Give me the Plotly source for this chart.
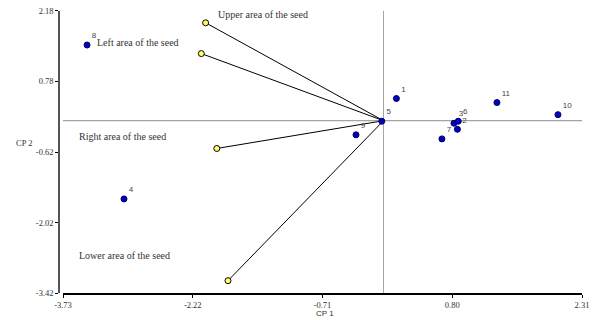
import plotly.graph_objects as go

# Observations (scores)
obs_labels = ["1", "2", "3", "4", "5", "6", "7", "8", "9", "10", "11"]
obs_x = [0.15, 0.86, 0.82, -3.02, -0.02, 0.87, 0.68, -3.45, -0.32, 2.03, 1.32]
obs_y = [0.44, -0.17, -0.05, -1.55, -0.01, -0.01, -0.36, 1.50, -0.28, 0.12, 0.36]

# Variables (loadings)
var_names = ["Upper area of the seed", "Left area of the seed",
             "Right area of the seed", "Lower area of the seed"]
var_x = [-2.07, -2.12, -1.94, -1.81]
var_y = [1.94, 1.33, -0.55, -3.17]

x_ticks = [-3.73, -2.22, -0.71, 0.80, 2.31]
y_ticks = [-3.42, -2.02, -0.62, 0.78, 2.18]
x_range = [-3.73, 2.31]
y_range = [-3.42, 2.18]

W, H = 594, 320
SERIF = "Liberation Serif, Times New Roman, serif"
SANS = "Liberation Sans, Arial, sans-serif"


def px(v):
    return v / W


def py(v):
    return 1 - v / H


fig = go.Figure()

# crosshair lines at zero
fig.add_trace(go.Scatter(x=[0, 0], y=y_range, mode="lines",
                         line=dict(color="#a6a6a6", width=1), hoverinfo="skip", showlegend=False))
fig.add_trace(go.Scatter(x=[x_range[0] - 0.05, x_range[1]], y=[0, 0], mode="lines",
                         line=dict(color="#8c8c8c", width=1), hoverinfo="skip", showlegend=False,
                         cliponaxis=False))

# vectors
vx, vy = [], []
for a, b in zip(var_x, var_y):
    vx += [0, a, None]
    vy += [0, b, None]
fig.add_trace(go.Scatter(x=vx, y=vy, mode="lines", line=dict(color="black", width=1),
                         hoverinfo="skip", showlegend=False))
fig.add_trace(go.Scatter(x=var_x, y=var_y, mode="markers",
                         marker=dict(size=6, color="#ffff66", line=dict(color="black", width=1)),
                         showlegend=False))

# observations
fig.add_trace(go.Scatter(x=obs_x, y=obs_y, mode="markers+text", text=obs_labels,
                         textposition="top right",
                         textfont=dict(family=SANS, size=8, color="#444444"),
                         marker=dict(size=6, color="#0000cc", line=dict(color="#000055", width=1)),
                         showlegend=False, cliponaxis=False))

# variable name labels (positions in data units)
label_pos = [(-1.95, 2.095), (-3.355, 1.546), (-3.57, -0.303), (-3.57, -2.675)]
for name, (lx, ly) in zip(var_names, label_pos):
    fig.add_annotation(x=lx, y=ly, xref="x", yref="y", text=name, showarrow=False,
                       xanchor="left", yanchor="middle",
                       font=dict(family=SERIF, size=10, color="#333333"))

fig.add_annotation(x=px(325), y=py(313), xref="paper", yref="paper", text="CP 1",
                   showarrow=False, xanchor="center", yanchor="middle",
                   font=dict(family=SANS, size=8, color="#333333"))
fig.add_annotation(x=px(24), y=py(143), xref="paper", yref="paper", text="CP 2",
                   showarrow=False, xanchor="center", yanchor="middle",
                   font=dict(family=SERIF, size=8.5, color="#333333"))

fig.update_layout(
    width=W, height=H,
    margin=dict(l=0, r=0, t=0, b=0),
    plot_bgcolor="white", paper_bgcolor="white",
    xaxis=dict(range=x_range, domain=[px(63), px(582)], anchor="y",
               tickvals=x_ticks, ticktext=[f"{v:.2f}" for v in x_ticks],
               showgrid=False, zeroline=False, showline=True, linecolor="black", linewidth=1.5,
               ticks="outside", ticklen=3, tickcolor="black", tickwidth=1,
               ticklabeloverflow="allow",
               tickfont=dict(family=SERIF, size=8.5, color="#333333"), automargin=False),
    yaxis=dict(range=y_range, domain=[py(293.3), py(10.7)], anchor="free",
               position=px(59),
               tickvals=y_ticks, ticktext=[f"{v:.2f}" for v in y_ticks],
               showgrid=False, zeroline=False, showline=True, linecolor="#555555", linewidth=1.5,
               ticks="outside", ticklen=3, tickcolor="black", tickwidth=1,
               ticklabeloverflow="allow",
               tickfont=dict(family=SERIF, size=8.5, color="#333333"), automargin=False),
)

fig.write_html("out.html", config={"displayModeBar": False},
               post_script="document.body.style.margin='0px';")
